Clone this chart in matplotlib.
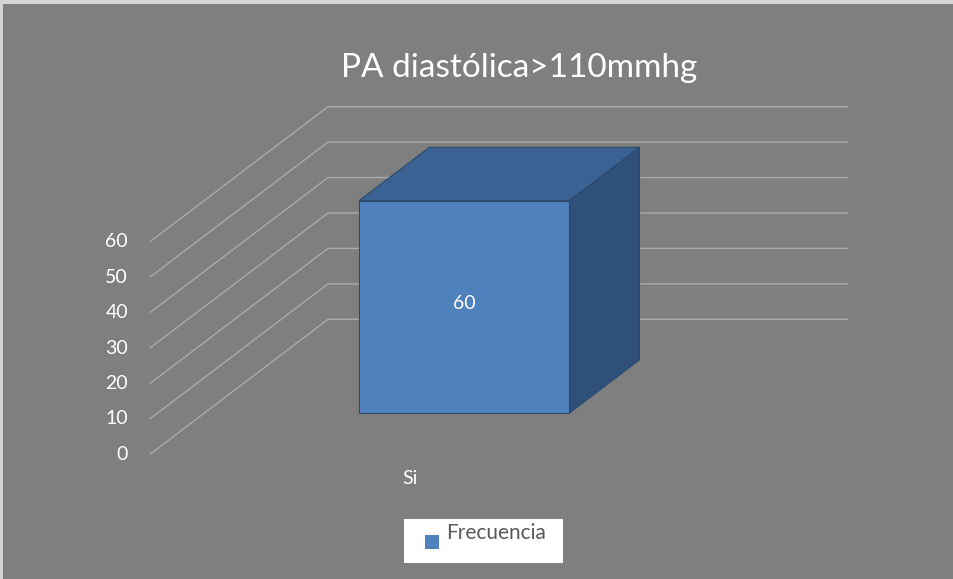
import matplotlib
matplotlib.use("Agg")
import matplotlib.pyplot as plt
from matplotlib.patches import Polygon, Rectangle

# ---- data ----
title = "PA diastólica>110mmhg"
categories = ["Si"]
values = [60]
series_name = "Frecuencia"
y_ticks = [0, 10, 20, 30, 40, 50, 60]

plt.rcParams['font.family'] = ['Lato', 'DejaVu Sans']

W, H = 954, 579
fig = plt.figure(figsize=(W / 100, H / 100), dpi=100, facecolor="#7f7f7f")
ax = fig.add_axes([0, 0, 1, 1])
ax.set_xlim(0, W)
ax.set_ylim(H, 0)
ax.axis("off")
ax.set_facecolor("#7f7f7f")

# pseudo-3D projection (pixel space)
X0, X1 = 150.0, 670.0       # front plane horizontal extent
Y0 = 454.3                  # front plane value 0
PX_PER_UNIT = 212.6 / 60.0
DX, DY = 178.0, -135.0      # depth offset front->back
ncat = len(categories)


def proj(xf, v, d):
    """xf: fraction along category axis [0..1], v: value, d: depth [0..1]"""
    x = X0 + (X1 - X0) * xf + DX * d
    y = Y0 - PX_PER_UNIT * v + DY * d
    return x, y


grid_col = "#ababab"
for t in y_ticks:
    xa, ya = proj(0, t, 0)
    xb, yb = proj(0, t, 1)
    xc, yc = proj(1, t, 1)
    ax.plot([xa, xb, xc], [ya, yb, yc], color=grid_col, lw=1.0, solid_capstyle="butt")
    ax.text(xa - 22, ya, str(t), ha="right", va="center", color="white", fontsize=14)

# bars
gap = 0.298
d_front, d_back = 0.304, 0.699
face_c, top_c, side_c, edge_c = "#4f81bd", "#3b6292", "#2f5179", "#2b4a70"
for i, (cat, v) in enumerate(zip(categories, values)):
    l = (i + gap) / ncat
    r = (i + 1 - gap) / ncat
    side = [proj(r, 0, d_front), proj(r, 0, d_back), proj(r, v, d_back), proj(r, v, d_front)]
    ax.add_patch(Polygon(side, closed=True, facecolor=side_c, edgecolor=edge_c, lw=0.8, zorder=3))
    top = [proj(l, v, d_front), proj(r, v, d_front), proj(r, v, d_back), proj(l, v, d_back)]
    ax.add_patch(Polygon(top, closed=True, facecolor=top_c, edgecolor=edge_c, lw=0.8, zorder=3))
    front = [proj(l, 0, d_front), proj(r, 0, d_front), proj(r, v, d_front), proj(l, v, d_front)]
    ax.add_patch(Polygon(front, closed=True, facecolor=face_c, edgecolor=edge_c, lw=0.8, zorder=4))
    cx, _ = proj((l + r) / 2, 0, d_front)
    _, cy = proj(0, v / 2, d_front)
    ax.text(cx, cy - 3, str(v), ha="center", va="center", color="white", fontsize=14, zorder=5)
    lx, ly = proj((i + 0.5) / ncat, 0, 0)
    ax.text(lx, ly + 24, cat, ha="center", va="center", color="white", fontsize=14)

# title
ax.text(519, 77, title, ha="center", va="baseline", color="white", fontsize=24)

# legend
ax.add_patch(Rectangle((404, 519), 159, 44, facecolor="white", edgecolor="none", zorder=6))
ax.add_patch(Rectangle((425, 535), 14, 14, facecolor=face_c, edgecolor="none", zorder=7))
ax.text(446, 539, series_name, ha="left", va="baseline", color="#595959", fontsize=15, zorder=7)

# outer border (top/left)
ax.add_patch(Rectangle((0, 0), W, 4, facecolor="#d4d4d4", edgecolor="none", zorder=10))
ax.add_patch(Rectangle((0, 0), 3.5, H, facecolor="#d4d4d4", edgecolor="none", zorder=10))

fig.savefig("out.png", dpi=100, facecolor=fig.get_facecolor())
